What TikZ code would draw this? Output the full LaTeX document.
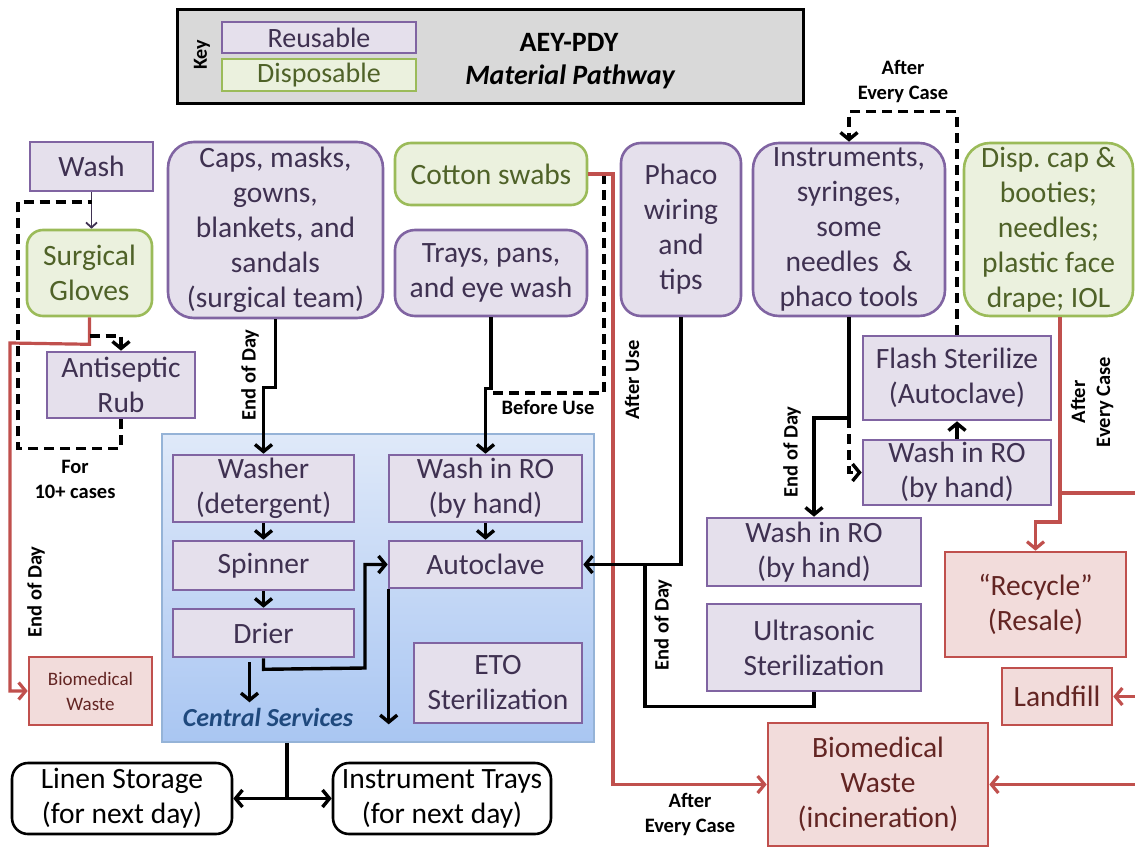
\documentclass[tikz,border=0pt]{standalone}
\usepackage{fontspec}
\setmainfont{Carlito}
\frenchspacing
\usetikzlibrary{arrows.meta,calc}
\definecolor{pfill}{HTML}{E5E0EC}
\definecolor{pdraw}{HTML}{8064A2}
\definecolor{ptext}{HTML}{3F3151}
\definecolor{gfill}{HTML}{EBF1DE}
\definecolor{gdraw}{HTML}{9BBB59}
\definecolor{gtext}{HTML}{4F6228}
\definecolor{rfill}{HTML}{F2DCDB}
\definecolor{rdraw}{HTML}{C0504D}
\definecolor{rtext}{HTML}{632523}
\definecolor{keyfill}{HTML}{D9D9D9}
\definecolor{cstop}{HTML}{DFE9F9}
\definecolor{csbot}{HTML}{A9C6F2}
\definecolor{csdraw}{HTML}{95B3D7}
\definecolor{cstext}{HTML}{1F497D}
\tikzset{
  sz/.style 2 args={minimum width=#1pt, minimum height=#2pt},
  base/.style={inner sep=0pt, align=center, font=\fontsize{29.5}{35}\selectfont},
  reuse/.style={base, draw=pdraw, fill=pfill, text=ptext, line width=2.6pt},
  reuseR/.style={reuse, rounded corners=20pt},
  disp/.style={base, draw=gdraw, fill=gfill, text=gtext, line width=2.6pt},
  dispR/.style={disp, rounded corners=16pt},
  waste/.style={base, draw=rdraw, fill=rfill, text=rtext, line width=2.6pt},
  store/.style={base, draw=black, fill=white, text=black, line width=2.6pt, rounded corners=16pt},
  lab/.style={inner sep=0pt, align=center, font=\bfseries\fontsize{20.5}{25}\selectfont},
  flow/.style={draw=black, line width=3.4pt},
  arr/.style={-{Straight Barb[length=7pt,width=17pt]}},
  dflow/.style={flow, dash pattern=on 10pt off 6pt},
  rflow/.style={draw=rdraw, line width=3.2pt},
}
\begin{document}
\begin{tikzpicture}[x=1pt,y=-1pt]
\useasboundingbox (0,0) rectangle (1135,848);
% key
\node[draw=black, fill=keyfill, line width=3pt, sz={626}{94}] (key) at (490,57) {};
\node[lab, rotate=90, font=\bfseries\fontsize{20}{24}\selectfont] (keylab) at (202,55) {Key};
\node[reuse, sz={194}{31}, font=\fontsize{28}{30}\selectfont] (kreuse) at (319,37.5) {Reusable};
\node[disp, sz={194}{32}, font=\fontsize{28}{30}\selectfont] (kdisp) at (319,75) {Disposable};
\node[inner sep=0pt, font=\bfseries\fontsize{28}{32}\selectfont] (title1) at (569,42) {AEY-PDY};
\node[inner sep=0pt, font=\bfseries\itshape\fontsize{28}{32}\selectfont] (title2) at (570,77) {Material Pathway};
% central services panel
\node[draw=csdraw, top color=cstop, bottom color=csbot, line width=1.8pt, sz={432}{308}] (panel) at (378,588) {};
% left column
\node[reuse, sz={123}{49}] (wash) at (91.5,166.5) {Wash};
\node[dispR, sz={125}{86}] (gloves) at (89.5,273) {Surgical\\Gloves};
\node[reuse, sz={148}{66}] (anti) at (121,385) {Antiseptic\\Rub};
\node[waste, sz={123}{68}, font=\fontsize{19}{25}\selectfont] (biosmall) at (90.5,691) {Biomedical\\Waste};
% top row
\node[reuseR, sz={215}{176}, rounded corners=26pt] (caps) at (275.5,230) {Caps, masks,\\gowns,\\blankets, and\\sandals\\(surgical team)};
\node[dispR, sz={192}{62}] (cotton) at (491,174) {Cotton swabs};
\node[reuseR, sz={192}{86}] (trays) at (491,273) {Trays, pans,\\and eye wash};
\node[reuseR, sz={120}{173}] (phaco) at (681,229.5) {Phaco\\wiring\\and\\tips};
\node[reuseR, sz={192}{173}, rounded corners=26pt] (instr) at (849,229.5) {Instruments,\\syringes,\\some\\needles~~\&\\phaco tools};
\node[dispR, sz={169}{173}, rounded corners=26pt] (dispcap) at (1048.5,229.5) {Disp. cap \&\\booties;\\needles;\\plastic face\\drape; IOL};
% right middle
\node[reuse, sz={188}{84}] (flash) at (957,378) {Flash Sterilize\\(Autoclave)};
\node[reuse, sz={188}{65}] (washr) at (957,472.5) {Wash in RO\\(by hand)};
\node[reuse, sz={214}{68}] (washm) at (814,552) {Wash in RO\\(by hand)};
\node[reuse, sz={214}{87}] (ultra) at (814,647.5) {Ultrasonic\\Sterilization};
\node[waste, sz={181}{105}] (recycle) at (1035.5,604.5) {``Recycle''\\(Resale)};
\node[waste, sz={110}{57}] (landfill) at (1057,696.5) {Landfill};
\node[waste, sz={220}{123}] (biobig) at (878,784.5) {Biomedical\\Waste\\(incineration)};
% central services content
\node[reuse, sz={181}{67}] (washer) at (263.5,488.5) {Washer\\(detergent)};
\node[reuse, sz={181}{49}] (spinner) at (263.5,565.5) {Spinner};
\node[reuse, sz={181}{48}] (drier) at (263.5,633) {Drier};
\node[reuse, sz={193}{67}] (washcs) at (485.5,488.5) {Wash in RO\\(by hand)};
\node[reuse, sz={193}{47}] (autoclave) at (485.5,564.5) {Autoclave};
\node[reuse, sz={168}{80}] (eto) at (498,683) {ETO\\Sterilization};
\node[inner sep=0pt, text=cstext, font=\bfseries\itshape\fontsize{26}{30}\selectfont] (cslab) at (268,717) {Central Services};
% storage
\node[store, sz={220}{71}] (linen) at (122,798.5) {Linen Storage\\(for next day)};
\node[store, sz={218}{71}] (itrays) at (442,798.5) {Instrument Trays\\(for next day)};
% labels
\node[lab] (l10) at (75,479) {For\\10+ cases};
\node[lab, rotate=90] (leod1) at (36,592) {End of Day};
\node[lab, rotate=90] (leod2) at (250,375) {End of Day};
\node[lab] (lbefore) at (548,407) {Before Use};
\node[lab, rotate=90] (lafter) at (632,380) {After Use};
\node[lab, rotate=90] (leod3) at (663,625) {End of Day};
\node[lab, rotate=90] (leod4) at (792,452) {End of Day};
\node[lab] (laec1) at (903,81) {After\\Every Case};
\node[lab, rotate=90] (laec2) at (1092,402) {After\\Every Case};
\node[lab] (laec3) at (690,814) {After\\Every Case};
% junction coordinates
\coordinate (jw) at (91.5,202);
\coordinate (jg) at (89.5,336);
\coordinate (jt) at (485.5,393);
\coordinate (jc) at (604,174);
\coordinate (ja) at (645,564.5);
\coordinate (ji) at (849,418);
\coordinate (jd) at (1060,493);
\coordinate (je) at (1140,493);
\coordinate (jp) at (287,798.5);
% left connectors
\draw[draw=ptext, line width=1.8pt, -{Straight Barb[length=5pt,width=11pt]}] (wash.south) -- (wash.south |- gloves.north);
\draw[dflow] (anti.south) -- ++(0,29) -| (18,202) -- (jw);
\draw[rflow, arr] (gloves.south) -- ++(0,27) -- (10,343) |- (biosmall.west);
\draw[dflow, arr] (jg) -| (anti.north);
% top row connectors
\draw[flow, arr] (caps.south) -- ++(0,68) -| (washer.north);
\draw[flow, arr] (trays.south) -- ++(0,71) -| (washcs.north);
\draw[dflow] (jc) -- (604,393) -- (jt);
\draw[rflow, arr] (cotton.east) -- (613,174) |- (biobig.west);
\draw[flow, arr] (phaco.south) |- (autoclave.east);
\draw[flow] (ultra.south) -- ++(0,14) -| (ja);
\draw[flow, arr] (instr.south) -- (ji) -| (washm.north);
\draw[dflow, arr] (ji) |- (washr.west);
\draw[flow, arr] (washr.north) -- (flash.south);
\draw[dflow, arr] (flash.north) -- ++(0,-223) -| (instr.north);
\draw[rflow, arr] ($(dispcap.south)+(11.5,0)$) -- (1060,522) -| (recycle.north);
\draw[rflow, arr] (jd) -- (je) |- (biobig.east);
\draw[rflow, arr] (je |- landfill.east) -- (landfill.east);
% central services connectors
\draw[flow, arr] (washer.south) -- (spinner.north);
\draw[flow, arr] (spinner.south) -- (drier.north);
\draw[flow, arr] (washcs.south) -- (autoclave.north);
\draw[flow, arr] (drier.south) -- ++(0,11) -- (365,668) |- (autoclave.west);
\draw[flow, arr] ($(drier.south)+(-14,4)$) -- ++(0,40);
\draw[flow, arr] ($(autoclave.south west)+(1,0)$) -- ++(0,135);
\draw[flow] ($(panel.south)+(-91,0)$) -- (jp);
\draw[flow, arr] (jp) -- (linen.east);
\draw[flow, arr] (jp) -- (itrays.west);
\end{tikzpicture}
\end{document}
